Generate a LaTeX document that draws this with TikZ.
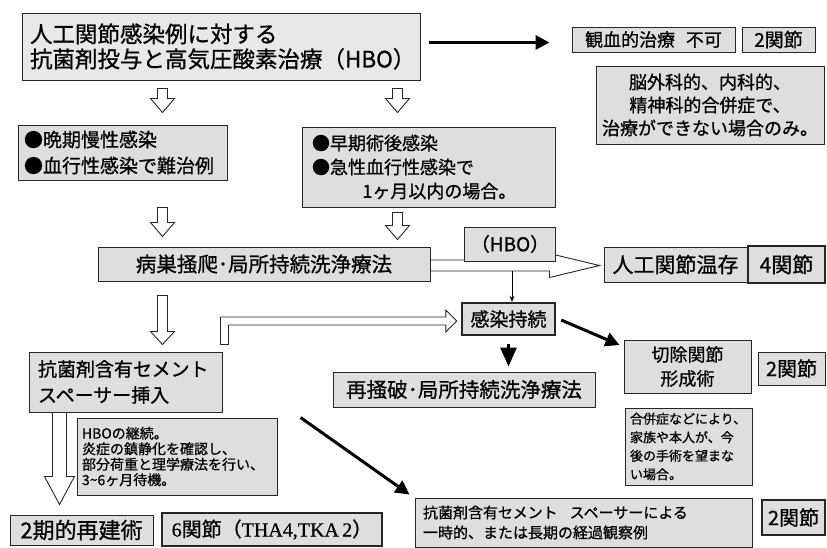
\documentclass[tikz,border=0pt]{standalone}
\usepackage{fontspec}
\setmainfont{Noto Sans CJK JP}[UprightFeatures={FakeBold=0.8}]
\newfontfamily\serifrm{Liberation Serif}[UprightFeatures={FakeBold=0.6}]
\usetikzlibrary{calc}
\usetikzlibrary{positioning}
\usetikzlibrary{arrows.meta}
\tikzset{x=1pt, y=-1pt, % pixel grid of the scan, y runs downward
  every node/.style={align=center},
  box/.style={draw=black!85, fill=gray!26, line width=1pt,
    inner xsep=6pt, inner ysep=1pt},
  thickbox/.style={box, line width=2.4pt},
  hollow/.style={draw=black!85, fill=white, line width=0.9pt, line join=miter},
  heavy/.style={draw=black, line width=3pt, -{Triangle[length=14pt,width=14pt]}},
  thinarrow/.style={draw, line width=0.8pt, -{Stealth[length=6pt,width=5pt]}}}
\newcommand{\fs}[2]{\fontsize{#1}{#2}\selectfont}
% hollow block arrows: from, to, shaft half width, head half width, head length
\newcommand{\hollowdown}[5]{%
  \draw[hollow] let \p1=#1, \p2=#2 in
    (\x1-#3pt,\y1) -- (\x1+#3pt,\y1) -- (\x1+#3pt,\y2+#5pt) -- (\x1+#4pt,\y2+#5pt)
    -- (\x1,\y2) -- (\x1-#4pt,\y2+#5pt) -- (\x1-#3pt,\y2+#5pt) -- cycle;}
\newcommand{\hollowright}[5]{%
  \draw[hollow] let \p1=#1, \p2=#2 in
    (\x1,\y1+#3pt) -- (\x2-#5pt,\y1+#3pt) -- (\x2-#5pt,\y1+#4pt) -- (\x2,\y1)
    -- (\x2-#5pt,\y1-#4pt) -- (\x2-#5pt,\y1-#3pt) -- (\x1,\y1-#3pt) -- cycle;}
\begin{document}
\begin{tikzpicture}
  \useasboundingbox (0,0) rectangle (827,547);

  % top row
  \node [box, fill=gray!18, text width=382pt, inner xsep=8pt, minimum height=67pt,
    align=left, font=\fs{22.5}{25}] (title) at (221,46.5)
    {人工関節感染例に対する\\抗菌剤投与と高気圧酸素治療（HBO）};
  \node [box, minimum width=163pt, minimum height=25pt, font=\fs{18}{22}]
    (kanketsu) at (653.5,39.5) {観血的治療\hspace{0.6em}不可};
  \node [box, minimum width=73pt, minimum height=25pt, font=\fs{19}{22}]
    (twoA) at (778.5,39.5) {2関節};
  \node [box, minimum width=226pt, minimum height=78pt, font=\fs{18}{23}]
    (nogeka) at (710,105)
    {脳外科的、内科的、\\精神科的合併症で、\\治療ができない場合のみ。};

  % indications
  \node [box, text width=197pt, minimum height=55pt, align=left, font=\fs{19}{26}]
    (banki) at (122.5,152.5) {●晩期慢性感染\\●血行性感染で難治例};
  \node [box, text width=233pt, inner xsep=10pt, minimum height=80pt, align=left,
    font=\fs{18}{24}] (souki) at (428.5,167)
    {●早期術後感染\\●急性血行性感染で\\\hspace*{2.8em}1ヶ月以内の場合。};

  % debridement and outcome
  \node [box, minimum width=332pt, minimum height=34pt, font=\fs{20.5}{24}]
    (byousou) at (264,264) {病巣掻爬･局所持続洗浄療法};
  \node [box, minimum width=143pt, minimum height=35pt, font=\fs{21}{25}]
    (jinkou) at (675.5,264.5) {人工関節温存};
  \node [thickbox, minimum width=77pt, minimum height=37pt, font=\fs{21}{25}]
    (fourJ) at (786.5,264.5) {4関節};
  \node [thickbox, minimum width=93pt, minimum height=32pt, font=\fs{19}{23}]
    (kansen) at (508.5,319) {感染持続};
  \node [box, text width=175pt, inner xsep=9pt, minimum height=60pt, align=left,
    font=\fs{19}{26}] (kougin) at (125.5,382) {抗菌剤含有セメント\\スペーサー挿入};
  \node [box, minimum width=262pt, minimum height=35pt, font=\fs{20.5}{24}]
    (saisou) at (464,389.5) {再掻破･局所持続洗浄療法};
  \node [box, minimum width=127pt, minimum height=53pt, font=\fs{18}{24}]
    (setsujo) at (687.5,366.5) {切除関節\\形成術};
  \node [box, minimum width=67pt, minimum height=33pt, font=\fs{20}{23}]
    (twoB) at (791.5,368.5) {2関節};
  \node [box, text width=117pt, inner xsep=5pt, minimum height=77pt, align=left,
    font=\fs{13}{18.5}] (gappei) at (688.5,446.5)
    {合併症などにより、\\家族や本人が、今\\後の手術を望まな\\い場合。};

  % bottom row
  \node [box, text width=190pt, inner xsep=5pt, minimum height=77pt, align=left,
    font=\fs{14}{15.5}] (hbokei) at (177,456.5)
    {HBOの継続。\\炎症の鎮静化を確認し、\\部分荷重と理学療法を行い、\\3\textasciitilde6ヶ月待機。};
  \node [box, minimum width=143pt, minimum height=30pt, font=\fs{22}{26}]
    (saiken) at (81.5,530) {2期的再建術};
  \node [thickbox, minimum width=220pt, minimum height=33pt, font=\fs{20}{24}]
    (sixJ) at (272,529.5) {{\serifrm 6}関節（{\serifrm THA4,TKA\,2}）};
  \node [box, text width=321pt, inner xsep=8pt, minimum height=49pt, align=left,
    font=\fs{15}{20}] (keika) at (583.5,522.5)
    {抗菌剤含有セメント\hspace{0.8em}スペーサーによる\\一時的、または長期の経過観察例};
  \node [thickbox, minimum width=63pt, minimum height=35pt, font=\fs{20}{23}]
    (twoC) at (793.5,517.5) {2関節};

  % hollow arrows
  \hollowdown{($(title.south west)+(141,8)$)}{($(banki.north west)+(145,-12)$)}{5}{12}{14}
  \hollowdown{($(title.south west)+(376,8)$)}{($(souki.north west)+(96,-14)$)}{5}{12}{14}
  \hollowdown{($(banki.south west)+(145,27)$)}{($(byousou.north west)+(65,-10)$)}{5}{12}{14}
  \hollowdown{($(souki.south west)+(96,5)$)}{($(byousou.north west)+(300,-7)$)}{5}{12}{14}
  \hollowdown{($(byousou.south west)+(65,14)$)}{($(kougin.north west)+(134,-7)$)}{5}{12}{13}
  \hollowdown{($(kougin.south west)+(31,0)$)}{($(saiken.north west)+(50,-10)$)}{7}{15}{28}
  \hollowright{($(byousou.east)+(0,1.5)$)}{($(jinkou.west)+(-4,0)$)}{5.5}{12}{50}
  \draw[hollow] let \p1=($(kougin.north east)+(2,-7)$), \p2=($(kansen.west)+(-4,2)$) in
    (\x1-4pt,\y1) -- (\x1-4pt,\y2+4pt) -- (\x2-11pt,\y2+4pt) -- (\x2-11pt,\y2+11pt)
    -- (\x2,\y2) -- (\x2-11pt,\y2-11pt) -- (\x2-11pt,\y2-4pt) -- (\x1+4pt,\y2-4pt)
    -- (\x1+4pt,\y1) -- cycle;
  \node [box, minimum width=84pt, minimum height=34pt, font=\fs{19}{23}]
    (hbo) at (510,244) {（HBO）};

  % black arrows
  \coordinate (hbofoot) at (512,271);
  \draw[thinarrow] (hbofoot) -- (hbofoot |- kansen.north);
  \draw[heavy] ($(title.east)+(8,-4)$) -- ($(kanketsu.west)+(-22,3)$);
  \draw[heavy, -{Triangle[length=19pt,width=16pt]}]
    ($(kansen.south)+(0,8)$) -- ($(kansen.south |- saisou.north)+(0,-5)$);
  \draw[heavy] ($(kansen.east)+(5,1)$) -- ($(setsujo.west)+(-4,-21.5)$);
  \draw[heavy] ($(hbokei.north east)+(23,0)$) -- ($(keika.north west)+(-5,-3)$);
\end{tikzpicture}
\end{document}
